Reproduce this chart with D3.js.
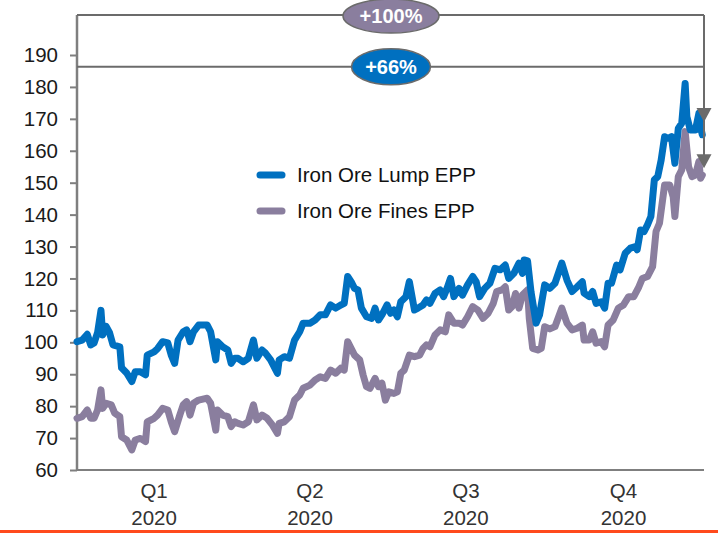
<!DOCTYPE html>
<html>
<head>
<meta charset="utf-8">
<script src="https://cdn.jsdelivr.net/npm/d3@7"></script>
<style>
  html, body { margin: 0; padding: 0; background: #fff; }
  svg { display: block; font-family: "Liberation Sans", Arial, sans-serif; }
</style>
</head>
<body>
<svg id="chart" width="718" height="534"></svg>
<script>
// ---- Data (day offset from 2020-01-01, index value) ----
const lumpDays = [0,3,6,8,10,12,14,15,17,19,21,25,26,29,32,34,37,40,41,45,47,50,53,55,57,59,62,64,66,68,71,76,78,81,82,85,88,90,92,94,97,100,103,105,108,110,113,117,118,121,124,127,130,132,136,139,142,145,148,151,154,156,158,160,162,164,166,169,172,174,176,178,181,183,185,187,189,192,194,197,199,202,204,206,209,212,214,216,218,220,223,225,228,231,233,235,238,241,244,247,250,252,255,258,260,261,263,265,268,270,273,276,279,283,286,289,292,295,296,299,301,303,306,308,310,312,315,317,320,323,326,327,329,331,333,335,337,339,341,343,345,347,349,351,353,355,356,358,361,363,364,365];
const lumpValues = [100.2,100.7,102.5,99.2,99.8,103,110,102.3,105,103,99.2,98.6,92,90.4,87.7,90.8,90.8,89.8,96,97,98,100.2,99.8,96,93.4,100.7,103.3,103.9,100.2,103.3,105.4,105.4,103.3,94.5,100.2,98.6,97.6,93.4,95,95,93.9,95,100.7,95,97.6,96.6,94.5,90.3,94.5,95.5,95,100.7,103.3,106,106,107,108.6,108.6,111.7,110.7,111.7,112.2,120.6,119,116.9,116.4,110.7,108,107.5,110.7,107,108.6,111.7,109.1,110.1,108,112.7,114.3,119,110.1,110.7,111.7,113.3,112.2,115.3,116.4,114.3,116.9,120,114.3,116.9,114.8,118,120.6,119,114.3,116.9,118.5,123.2,122.7,124.2,120,121.6,124.8,121.6,125.8,125.5,115.9,106,108.6,118,116.9,118.5,124.8,119.5,115.9,117.4,119,115.4,114.3,115.9,112.2,112.7,110.7,118.5,118.5,124.2,122.7,127.9,129.5,130,129,135.2,134.7,136.8,139.4,150.9,151.9,157.1,164.4,163.9,164.4,156.1,167,168.6,181.1,170.7,166.5,166.5,171.7,167.5,165];

const finesDays = [0,3,6,8,10,12,14,15,17,20,22,25,26,29,32,34,37,40,41,45,47,50,53,55,57,60,62,64,66,68,71,76,78,81,82,85,88,90,92,94,97,100,103,105,108,111,114,117,118,121,124,127,130,132,136,139,142,145,148,151,154,156,158,160,162,165,167,169,171,174,176,178,180,182,185,187,189,191,194,197,200,202,204,206,209,212,215,217,220,223,225,228,231,234,237,240,243,245,248,250,252,254,256,258,260,263,264,266,269,271,273,276,279,283,286,289,292,295,296,299,301,303,306,308,310,313,316,319,322,325,328,330,333,336,338,340,343,346,348,349,351,353,355,357,359,361,363,364,365];
const finesValues = [76.2,76.7,78.8,76.2,76.2,78.8,85.1,79.3,80.9,80.4,77.8,76.7,70.4,69.4,66.3,69.4,69.9,68.9,75.1,76.2,77.2,79.3,78.8,75.1,72,77.2,80.4,81.4,77.2,80.9,81.9,82.5,80.9,72.5,78.8,77.2,76.7,73.6,75.1,74.6,74.1,75.1,80.4,75.7,77.2,76.2,74.1,71.5,74.6,75.1,76.7,81.9,83.5,85.6,86.6,88.2,89.2,88.7,91.3,90.3,91.9,91.3,100.2,98.1,96,94.5,89.8,86.1,85.6,88.7,86.1,87.2,81.9,84.5,84,84.5,90.3,91.3,96,95.5,96,98.1,99.2,98.6,102.3,103.9,103.3,108.6,106,106,105.4,108,111.2,110.1,107.5,109.1,112.2,115.9,116.4,117.4,110.1,111.2,115.3,110.7,114.8,116.4,107.5,98.1,97.6,98.1,104.9,104.2,104.9,110.7,106,103.9,104.4,105.4,100.7,100.7,103.3,99.7,100.2,98.6,105.4,107,110.7,111.7,114.3,114.3,117.4,120,120.6,123.7,134.7,137.3,149.3,149.3,145.6,139.4,151.9,154,166,155,151.9,152.4,156.6,151.4,152.4];

const yTicks = [60,70,80,90,100,110,120,130,140,150,160,170,180,190];
const quarterLabels = ["Q1","Q2","Q3","Q4"];
const quarterMidDays = [45,136,227,319];
const yearLabel = "2020";
const seriesNames = ["Iron Ore Lump EPP","Iron Ore Fines EPP"];
const changeLabels = ["+100%","+66%"];
const bracketLevels = [202.5, 186.3];   // annotation heights in index units
const arrowTips = [169, 154.5];         // arrow tips in index units

// ---- Styles ----
const BLUE = "#0070C0", PURPLE = "#8A7E9E", AXIS = "#7F7F7F", ANN = "#6B6B6B";

const svg = d3.select("#chart");
const start = new Date(2020,0,1);
const dayToDate = d => d3.timeDay.offset(start, d);

const x = d3.scaleTime().domain([start, new Date(2021,0,1)]).range([77, 704]);
const y = d3.scaleLinear().domain([60,190]).range([470,55]);

const lump = lumpDays.map((d,i)=>({date: dayToDate(d), v: lumpValues[i]}));
const fines = finesDays.map((d,i)=>({date: dayToDate(d), v: finesValues[i]}));

// bottom orange line
svg.append("line").attr("x1",0).attr("x2",718).attr("y1",531.5).attr("y2",531.5)
  .attr("stroke","#FF4A1C").attr("stroke-width",3);

// Y axis
const yAxis = d3.axisLeft(y).tickValues(yTicks).tickSize(7).tickPadding(12);
const yg = svg.append("g").attr("transform","translate(77,0)").call(yAxis);
yg.select(".domain").remove();
yg.selectAll(".tick line").attr("stroke",AXIS).attr("stroke-width",2);
yg.selectAll(".tick text").attr("font-size","20.5px").attr("fill","#1a1a1a")
  .attr("font-family","Liberation Sans, Arial, sans-serif");
// y axis line extends to top bracket
svg.append("line").attr("x1",77).attr("x2",77).attr("y1",y(bracketLevels[0])).attr("y2",471)
  .attr("stroke",AXIS).attr("stroke-width",2.5);

// X axis line
svg.append("line").attr("x1",76).attr("x2",704).attr("y1",470).attr("y2",470)
  .attr("stroke",AXIS).attr("stroke-width",2);

// X labels
const xl = svg.append("g");
quarterMidDays.forEach((d,i)=>{
  const cx = x(dayToDate(d));
  xl.append("text").attr("x",cx).attr("y",498).attr("text-anchor","middle")
    .attr("font-size","20.5px").attr("fill","#333").text(quarterLabels[i]);
  xl.append("text").attr("x",cx).attr("y",525).attr("text-anchor","middle")
    .attr("font-size","20.5px").attr("fill","#333").text(yearLabel);
});

// Lines
const line = d3.line().x(d=>x(d.date)).y(d=>y(d.v)).curve(d3.curveLinear);
svg.append("path").datum(fines).attr("d",line).attr("fill","none")
  .attr("stroke",PURPLE).attr("stroke-width",7).attr("stroke-linejoin","round").attr("stroke-linecap","round");
svg.append("path").datum(lump).attr("d",line).attr("fill","none")
  .attr("stroke",BLUE).attr("stroke-width",7).attr("stroke-linejoin","round").attr("stroke-linecap","round");

// Annotation brackets
const xEnd = 704;
bracketLevels.forEach(b=>{
  svg.append("line").attr("x1",77).attr("x2",xEnd).attr("y1",y(b)).attr("y2",y(b))
    .attr("stroke",ANN).attr("stroke-width",2);
});
svg.append("line").attr("x1",xEnd).attr("x2",xEnd).attr("y1",y(bracketLevels[0]))
  .attr("y2",y(arrowTips[1])-4).attr("stroke",ANN).attr("stroke-width",2);
arrowTips.forEach(t=>{
  const ty = y(t);
  svg.append("path").attr("d",`M${xEnd-7.5},${ty-14} L${xEnd+7.5},${ty-14} L${xEnd},${ty} Z`)
    .attr("fill",ANN);
});

// Ellipse labels
const ellipses = [
  {label: changeLabels[0], lvl: bracketLevels[0], fill: PURPLE, rx: 48, ry: 17},
  {label: changeLabels[1], lvl: bracketLevels[1], fill: BLUE, rx: 39.5, ry: 18}
];
ellipses.forEach(e=>{
  const cy = y(e.lvl) + (e.ry===17 ? 1 : 0);
  svg.append("ellipse").attr("cx",391).attr("cy",cy).attr("rx",e.rx).attr("ry",e.ry)
    .attr("fill",e.fill).attr("stroke",ANN).attr("stroke-width",1.5);
  svg.append("text").attr("x",391).attr("y",cy).attr("dy","0.36em").attr("text-anchor","middle")
    .attr("font-size","20px").attr("font-weight","bold").attr("fill","#fff").text(e.label);
});

// Legend
const leg = svg.append("g");
[[BLUE,175],[PURPLE,211]].forEach((c,i)=>{
  leg.append("line").attr("x1",260).attr("x2",282).attr("y1",c[1]).attr("y2",c[1])
    .attr("stroke",c[0]).attr("stroke-width",7).attr("stroke-linecap","round");
  leg.append("text").attr("x",297).attr("y",c[1]).attr("dy","0.36em")
    .attr("font-size","20.5px").attr("fill","#111").text(seriesNames[i]);
});
</script>
</body>
</html>
